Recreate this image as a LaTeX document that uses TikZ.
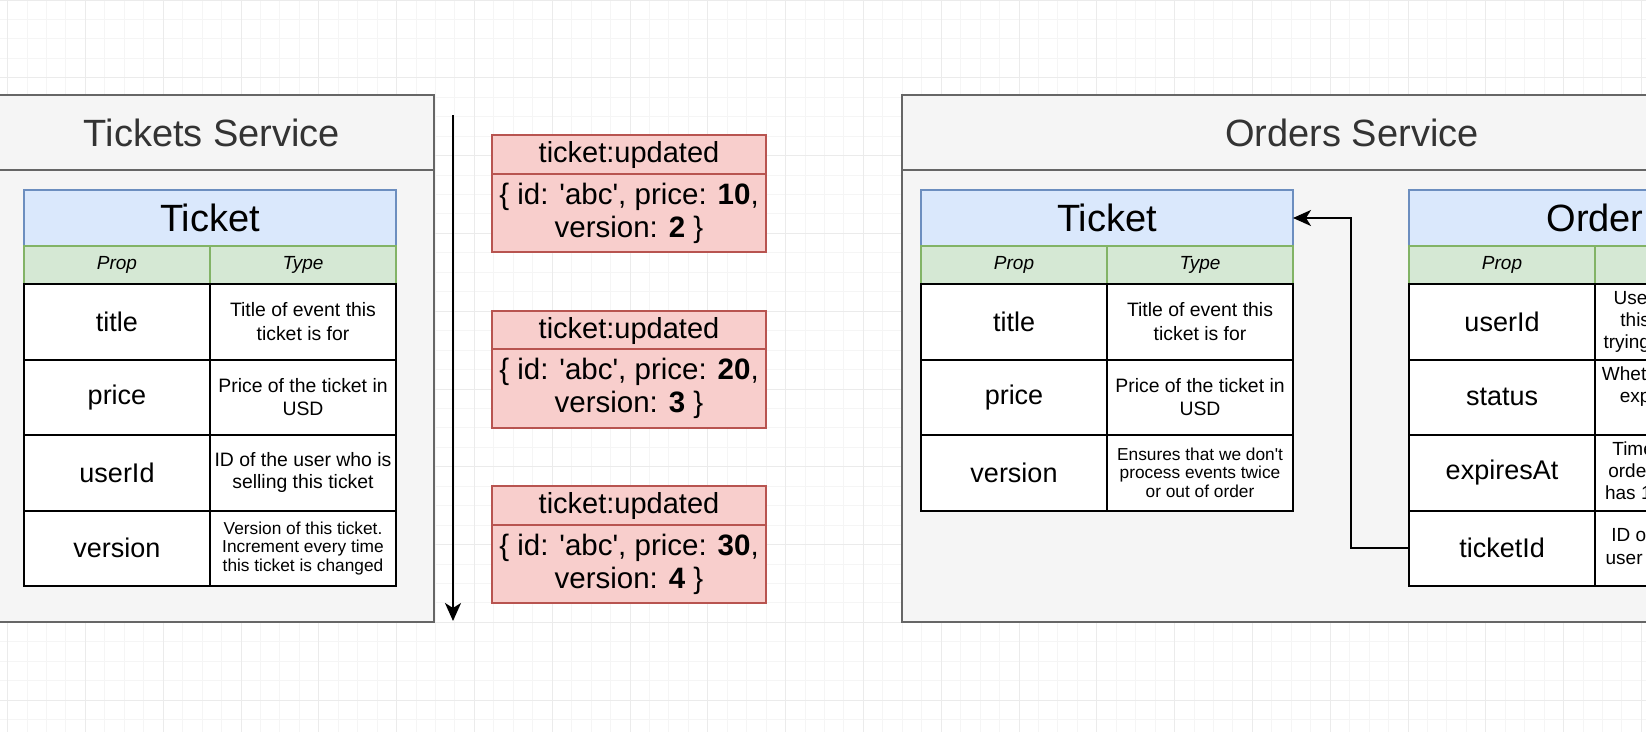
\documentclass[tikz,border=0pt]{standalone}
\usepackage{fontspec}
\setmainfont{Liberation Sans}
\usepackage{tikz}
\usetikzlibrary{arrows.meta}
\tikzset{>={Stealth[length=18,width=16,inset=5]}}
\usepackage{xcolor}
\definecolor{lanefill}{HTML}{F5F5F5}
\definecolor{laneline}{HTML}{666666}
\definecolor{lanetext}{HTML}{333333}
\definecolor{titlefill}{HTML}{DAE8FC}
\definecolor{titleline}{HTML}{6C8EBF}
\definecolor{colfill}{HTML}{D5E8D4}
\definecolor{colline}{HTML}{82B366}
\definecolor{evfill}{HTML}{F8CECC}
\definecolor{evline}{HTML}{B85450}
\newcommand{\fsz}[2]{\fontsize{#1}{#2}\selectfont}
\newcommand{\sq}{\textquotesingle}

\begin{document}
\begin{tikzpicture}[x=1pt,y=-1pt,
    cell/.style={anchor=north west,inner sep=0,outer sep=0,align=center},
    lanehead/.style={cell,draw=laneline,fill=lanefill,line width=2,minimum height=75,text=lanetext,font=\fsz{38}{44}},
    lanebody/.style={cell,draw=laneline,fill=lanefill,line width=2,minimum height=452},
    title/.style={cell,draw=titleline,fill=titlefill,line width=1.5,minimum width=372,minimum height=56,font=\fsz{38}{44}},
    colhead/.style={cell,draw=colline,fill=colfill,line width=1.5,minimum width=186,minimum height=38,font=\fsz{19}{22}\itshape},
    propcell/.style={cell,draw=black,fill=white,line width=2,minimum width=186,minimum height=75.5,font=\fsz{27}{30}},
    desccell/.style={cell,draw=black,fill=white,line width=2,minimum width=186,minimum height=75.5,font=\fsz{19.4}{23}},
    smalldesc/.style={desccell,font=\fsz{17.3}{18.7}},
    evhead/.style={cell,draw=evline,fill=evfill,line width=2,minimum width=274,minimum height=39,font=\fsz{29}{33}},
    evbody/.style={cell,draw=evline,fill=evfill,line width=2,minimum width=274,minimum height=78,font=\fsz{29.5}{33}},
    arrow/.style={->,line width=2,black}]
    \message{Ticket versioning^^J}

    \useasboundingbox (0,0) rectangle (1646,731);
    \clip (0,0) rectangle (1646,731);
    \fill[white] (0,0) rectangle (1646,731);
    \begin{scope}[xshift=7.6pt]
    \draw[gray!8,line width=1,step=19.45pt] (-20pt,-740pt) grid (1660pt,0pt);
    \draw[gray!16,line width=1,step=77.8pt] (-20pt,-740pt) grid (1660pt,0pt);
    \end{scope}

    % Tickets Service
    \node[lanebody,minimum width=444] (tsbody) at (-10,170) {};
    \node[lanehead,minimum width=444] (tshead) at (-10,95) {Tickets Service};

    \node[title] (ltkt) at (24,190) {Ticket};
    \node[colhead] (ltprop) at (24,246) {Prop};
    \node[colhead] (lttype) at (210,246) {Type};
    \node[propcell] (lttitle) at (24,284) {title};
    \node[desccell,font=\fsz{19.4}{24}] (lttitled) at (210,284) {Title of event this\\ticket is for};
    \node[propcell] (ltprice) at (24,359.5) {price};
    \node[desccell] (ltpriced) at (210,359.5) {Price of the ticket in\\USD};
    \node[propcell] (ltuser) at (24,435) {userId};
    \node[desccell,font=\fsz{19.4}{22}] (ltuserd) at (210,435) {ID of the user who is\\selling this ticket};
    \node[propcell] (ltver) at (24,510.5) {version};
    \node[smalldesc] (ltverd) at (210,510.5) {Version of this ticket.\\Increment every time\\this ticket is changed};

    % events
    \coordinate (tstart) at (453,115);
    \coordinate (tend) at (453,621);
    \draw[arrow] (tstart) -- (tend);

    \node[evhead] (ev1h) at (492,135) {ticket:updated};
    \node[evbody] (ev1b) at (492,174) {\{ id: \sq abc\sq, price: \textbf{10},\\version: \textbf{2} \}};
    \node[evhead] (ev2h) at (492,311) {ticket:updated};
    \node[evbody,minimum height=79] (ev2b) at (492,349) {\{ id: \sq abc\sq, price: \textbf{20},\\version: \textbf{3} \}};
    \node[evhead] (ev3h) at (492,486) {ticket:updated};
    \node[evbody] (ev3b) at (492,525) {\{ id: \sq abc\sq, price: \textbf{30},\\version: \textbf{4} \}};

    % Orders Service
    \node[lanebody,minimum width=900] (osbody) at (902,170) {};
    \node[lanehead,minimum width=900] (oshead) at (902,95) {Orders Service};

    \node[title] (rtkt) at (921,190) {Ticket};
    \node[colhead] (rtprop) at (921,246) {Prop};
    \node[colhead] (rttype) at (1107,246) {Type};
    \node[propcell] (rttitle) at (921,284) {title};
    \node[desccell,font=\fsz{19.4}{24}] (rttitled) at (1107,284) {Title of event this\\ticket is for};
    \node[propcell] (rtprice) at (921,359.5) {price};
    \node[desccell] (rtpriced) at (1107,359.5) {Price of the ticket in\\USD};
    \node[propcell] (rtver) at (921,435) {version};
    \node[smalldesc,font=\fsz{17.3}{18.5}] (rtverd) at (1107,435) {Ensures that we don\sq t\\process events twice\\or out of order};

    \node[title] (oord) at (1409,190) {Order};
    \node[colhead] (oprop) at (1409,246) {Prop};
    \node[colhead] (otype) at (1595,246) {Type};
    \node[propcell] (ouser) at (1409,284) {userId};
    \node[desccell,font=\fsz{19}{22}] (ouserd) at (1595,284) {User who created\\this order and is\\trying to buy a ticket};
    \node[propcell] (ostat) at (1409,359.5) {status};
    \node[desccell,font=\fsz{19}{22}] (ostatd) at (1595,359.5) {Whether the order is\\expired, paid, or\\pending};
    \node[propcell] (oexp) at (1409,435) {expiresAt};
    \node[desccell,font=\fsz{19}{22}] (oexpd) at (1595,435) {Time at which this\\order expires (user\\has 15 mins to pay)};
    \node[propcell] (otid) at (1409,510.5) {ticketId};
    \node[desccell,font=\fsz{19}{23}] (otidd) at (1595,510.5) {ID of the ticket the\\user is trying to buy};

    \draw[arrow] (otid.west) -- ++(-58,0) |- (rtkt.east);

\end{tikzpicture}
\end{document}
